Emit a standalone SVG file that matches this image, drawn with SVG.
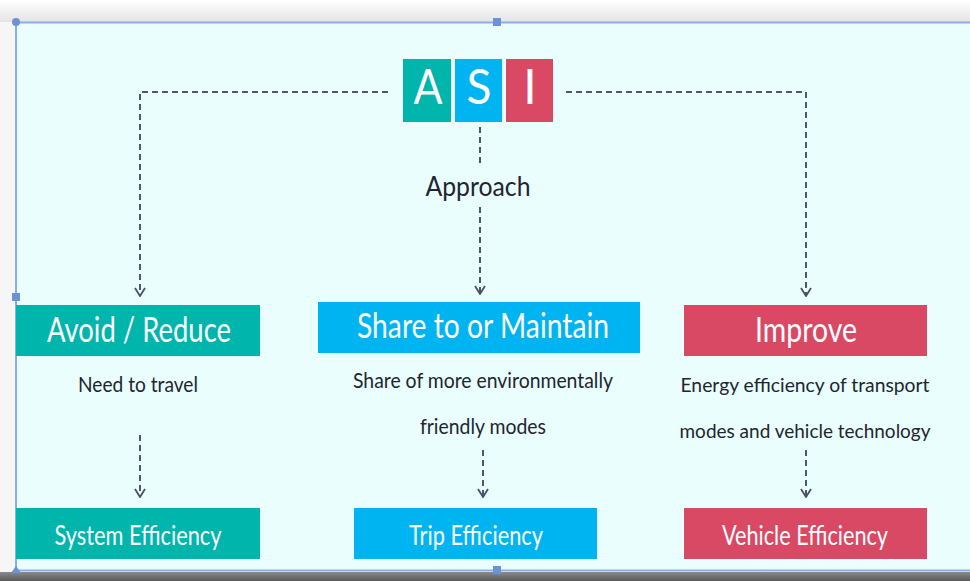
<svg xmlns="http://www.w3.org/2000/svg" width="970" height="581" viewBox="0 0 970 581">
<defs>
<linearGradient id="topShadow" x1="0" y1="0" x2="0" y2="1">
<stop offset="0" stop-color="#ffffff"/>
<stop offset="1" stop-color="#e4e4e4"/>
</linearGradient>
<linearGradient id="botShadow" x1="0" y1="0" x2="0" y2="1">
<stop offset="0" stop-color="#8a8a8a"/>
<stop offset="1" stop-color="#5a5a5a"/>
</linearGradient>
<marker id="arr" viewBox="0 0 10 12" refX="9" refY="6" markerWidth="10" markerHeight="12" markerUnits="userSpaceOnUse" orient="auto">
<path d="M1,1 L9,6 L1,11" fill="none" stroke="#4a5068" stroke-width="1.8"/>
</marker>
</defs>
<style>
.dash{fill:none;stroke:#4f566e;stroke-width:2;stroke-dasharray:6,4}
.title{font-family:Lato,"Open Sans","Liberation Sans",sans-serif;fill:#ffffff;text-anchor:middle}
.body{font-family:Lato,"Open Sans","Liberation Sans",sans-serif;fill:#22252e;text-anchor:middle}
.teal{fill:#00b5ac}
.blue{fill:#00b4f2}
.red{fill:#da4964}
</style>
<rect x="0" y="0" width="970" height="581" fill="#ffffff"/>
<rect x="0" y="0" width="970" height="22" fill="url(#topShadow)"/>
<rect x="0" y="22" width="16" height="556" fill="#f6f6f6"/>
<rect x="0" y="572" width="970" height="9" fill="url(#botShadow)"/>
<rect x="16" y="22" width="954" height="549" fill="#eafefe"/>
<g id="frame">
<line x1="16" y1="22.5" x2="970" y2="22.5" stroke="#8aaee3" stroke-width="2"/>
<line x1="16" y1="570.5" x2="970" y2="570.5" stroke="#8aaee3" stroke-width="2"/>
<line x1="16" y1="22" x2="16" y2="571" stroke="#8aaee3" stroke-width="2"/>
<circle cx="16" cy="22" r="4" fill="#6b92d4"/>
<rect x="493" y="18" width="8" height="8" fill="#6b92d4"/>
<rect x="12" y="293" width="8" height="8" fill="#6b92d4"/>
<rect x="493" y="566" width="8" height="8" fill="#6b92d4"/>
<path d="M11,573 L16,566 L21,573 Z" fill="#6b92d4"/>
</g>
<g id="connectors">
<path class="dash" d="M388,92 H140 V296" marker-end="url(#arr)"/>
<path class="dash" d="M566,92 H806 V296" marker-end="url(#arr)"/>
<path class="dash" d="M480,127 V165"/>
<path class="dash" d="M480,207 V294" marker-end="url(#arr)"/>
<path class="dash" d="M140,435 V497" marker-end="url(#arr)"/>
<path class="dash" d="M483,450 V497" marker-end="url(#arr)"/>
<path class="dash" d="M806,450 V497" marker-end="url(#arr)"/>
</g>
<g id="asi">
<rect class="teal" x="403" y="59" width="48" height="63"/>
<rect class="blue" x="455" y="59" width="47" height="63"/>
<rect class="red" x="506" y="59" width="47" height="63"/>
<text class="title" x="428" y="104" font-size="48" textLength="29" lengthAdjust="spacingAndGlyphs">A</text>
<text class="title" x="479" y="104" font-size="48" textLength="25" lengthAdjust="spacingAndGlyphs">S</text>
<text class="title" x="530" y="104" font-size="48">I</text>
</g>
<g id="approach">
<text class="body" x="478" y="196" font-size="27" textLength="105" lengthAdjust="spacingAndGlyphs">Approach</text>
</g>
<g id="avoid">
<rect class="teal" x="16" y="305" width="244" height="51"/>
<text class="title" x="139" y="342" font-size="35" textLength="184" lengthAdjust="spacingAndGlyphs">Avoid / Reduce</text>
<text class="body" x="138" y="392" font-size="22" textLength="120" lengthAdjust="spacingAndGlyphs">Need to travel</text>
</g>
<g id="share">
<rect class="blue" x="318" y="302" width="322" height="51"/>
<text class="title" x="483" y="338" font-size="34" textLength="252" lengthAdjust="spacingAndGlyphs">Share to or Maintain</text>
<text class="body" x="483" y="388" font-size="21" textLength="260" lengthAdjust="spacingAndGlyphs">Share of more environmentally</text>
<text class="body" x="483" y="434" font-size="22" textLength="126" lengthAdjust="spacingAndGlyphs">friendly modes</text>
</g>
<g id="improve">
<rect class="red" x="684" y="305" width="243" height="51"/>
<text class="title" x="806" y="342" font-size="35" textLength="102" lengthAdjust="spacingAndGlyphs">Improve</text>
<text class="body" x="805" y="392" font-size="20" textLength="249" lengthAdjust="spacingAndGlyphs">Energy efficiency of transport</text>
<text class="body" x="805" y="438" font-size="20" textLength="251" lengthAdjust="spacingAndGlyphs">modes and vehicle technology</text>
</g>
<g id="system">
<rect class="teal" x="16" y="508" width="244" height="51"/>
<text class="title" x="138" y="545" font-size="27" textLength="167" lengthAdjust="spacingAndGlyphs">System Efficiency</text>
</g>
<g id="trip">
<rect class="blue" x="354" y="508" width="243" height="51"/>
<text class="title" x="476" y="545" font-size="27" textLength="134" lengthAdjust="spacingAndGlyphs">Trip Efficiency</text>
</g>
<g id="vehicle">
<rect class="red" x="684" y="508" width="243" height="51"/>
<text class="title" x="805" y="545" font-size="27" textLength="166" lengthAdjust="spacingAndGlyphs">Vehicle Efficiency</text>
</g>
</svg>
